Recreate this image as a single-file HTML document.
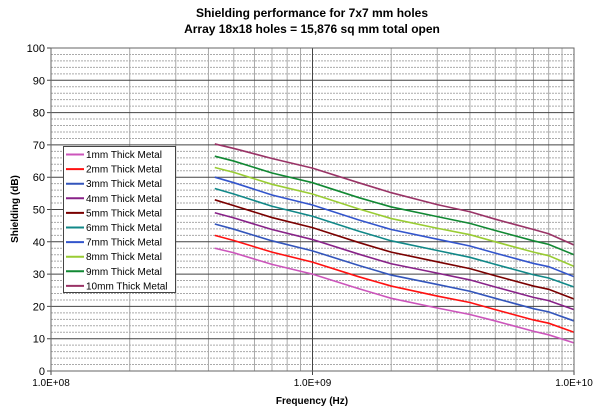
<!DOCTYPE html>
<html><head><meta charset="utf-8"><style>
html,body{margin:0;padding:0;background:#fff;}
svg{display:block;font-family:"Liberation Sans",sans-serif;}
</style></head><body>
<svg id="chart" width="600" height="413" viewBox="0 0 600 413">
<text x="312" y="17" text-anchor="middle" font-size="12" font-weight="bold">Shielding performance for 7x7 mm holes</text>
<text x="312" y="33" text-anchor="middle" font-size="12" font-weight="bold">Array 18x18 holes = 15,876 sq mm total open</text>
<g id="grid"></g>
<g id="series"></g>
<g id="axes"></g>
<text x="312" y="404" text-anchor="middle" font-size="10" font-weight="bold">Frequency (Hz)</text>
<text transform="translate(18,209) rotate(-90)" text-anchor="middle" font-size="10" font-weight="bold">Shielding (dB)</text>
<g id="legend"></g>
</svg>
<script>
const freqs = [4.23e8, 5e8, 7e8, 1e9, 1.5e9, 2e9, 3e9, 4e9, 5e9, 7e9, 8e9, 1e10];
const seriesNames = ["1mm  Thick Metal","2mm  Thick Metal","3mm  Thick Metal","4mm  Thick Metal","5mm  Thick Metal","6mm  Thick Metal","7mm  Thick Metal","8mm  Thick Metal","9mm  Thick Metal","10mm  Thick Metal"];
const seriesColors = ["#cc55bb","#ff1111","#3355bb","#882288","#7a0000","#118888","#3355cc","#99cc33","#118833","#993366"];
const s1 = [38, 36.6, 33, 30, 25.5, 22.5, 19.5, 17.5, 15.5, 12.3, 11.2, 8.7];
const s2 = [42, 40.4, 36.8, 33.7, 29.2, 26.3, 23.2, 21.2, 19, 15.8, 14.8, 12];
const s3 = [45.5, 43.9, 40.3, 37.2, 32.7, 29.7, 26.8, 24.7, 22.5, 19.3, 18.3, 15.5];
const s4 = [49, 47.4, 43.8, 40.7, 36.2, 33.2, 30.3, 28.2, 26, 22.8, 21.8, 19];
const s5 = [53, 51.2, 47.5, 44.4, 39.8, 36.8, 33.8, 31.7, 29.5, 26.3, 25.3, 22.3];
const s6 = [56.5, 54.8, 51, 47.9, 43.3, 40.3, 37.3, 35.2, 33, 29.8, 28.8, 26];
const s7 = [60, 58.3, 54.5, 51.4, 46.8, 43.8, 40.8, 38.7, 36.5, 33.3, 32.3, 29.2];
const s8 = [63, 61.5, 57.8, 54.8, 50.2, 47.2, 44.2, 42.2, 40, 36.8, 35.7, 32.4];
const s9 = [66.5, 65, 61.3, 58.3, 53.7, 50.8, 47.8, 45.7, 43.5, 40.3, 39.2, 36];
const s10 = [70.3, 68.9, 65.8, 62.8, 58.3, 55.2, 51.5, 49.3, 47, 43.8, 42.5, 39];
const allSeries = [s1,s2,s3,s4,s5,s6,s7,s8,s9,s10];
const yTicks = [0,10,20,30,40,50,60,70,80,90,100];
const xTickLabels = ["1.0E+08","1.0E+09","1.0E+10"];
const xTickVals = [1e8,1e9,1e10];

const L=51, R=574, T=48, B=371;
const NS="http://www.w3.org/2000/svg";
function xs(f){return L+(Math.log10(f)-8)/2*(R-L);}
function ys(v){return B-v/100*(B-T);}
function mk(tag,attrs,parent){const e=document.createElementNS(NS,tag);for(const k in attrs)e.setAttribute(k,attrs[k]);parent.appendChild(e);return e;}
const grid=document.getElementById('grid'), axes=document.getElementById('axes'), ser=document.getElementById('series'), leg=document.getElementById('legend');
for(let v=2;v<100;v+=2){ if(v%10===0)continue;
  const l=mk('line',{x1:L,x2:R,y1:ys(v),y2:ys(v),stroke:'#aaa','stroke-width':1,'stroke-dasharray':'2,1'},grid);
  
  
}
for(let d=8;d<10;d++)for(let m=2;m<10;m++){
  const x=xs(m*Math.pow(10,d));
  const l=mk('line',{x1:x,x2:x,y1:T,y2:B,stroke:'#aaa','stroke-width':1},grid);
  
  
}
yTicks.forEach(v=>{
  const l=mk('line',{x1:L-4,x2:R,y1:ys(v),y2:ys(v),stroke:'#444','stroke-width':1},grid);
  
  
  const t=mk('text',{x:L-6,y:ys(v)+4,'text-anchor':'end','font-size':11},axes);
  t.textContent=v;
  
  
});
xTickVals.forEach((f,i)=>{
  const x=xs(f);
  const l=mk('line',{x1:x,x2:x,y1:T,y2:B+4,stroke:'#444','stroke-width':1},grid);
  
  
  const t=mk('text',{x:x,y:386,'text-anchor':'middle','font-size':10},axes);
  t.textContent=xTickLabels[i];
  
  
});
const fr=mk('rect',{x:L,y:T,width:R-L,height:B-T,fill:'none',stroke:'#666','stroke-width':1},axes);


allSeries.forEach((s,i)=>{
  const p=mk('polyline',{points:s.map((v,j)=>xs(freqs[j])+','+ys(v)).join(' '),fill:'none',stroke:seriesColors[i],'stroke-width':1.6},ser);
  
  
});
const box=mk('rect',{x:63.5,y:146.5,width:112,height:146,fill:'#fff',stroke:'#444','stroke-width':1},leg);


seriesNames.forEach((n,i)=>{
  const y=154.5+i*14.6;
  const l=mk('line',{x1:66,x2:84,y1:y,y2:y,stroke:seriesColors[i],'stroke-width':2},leg);
  
  
  const t=mk('text',{x:86,y:y+3.5,'font-size':10},leg);
  t.textContent=n;
  
  
});
</script>
</body></html>
